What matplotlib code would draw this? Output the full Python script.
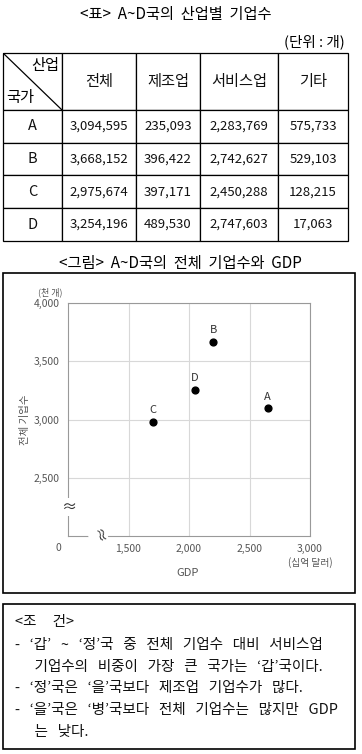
import matplotlib.pyplot as plt
from matplotlib.patches import Rectangle
from matplotlib.lines import Line2D

plt.rcParams["font.family"] = ["Noto Sans CJK KR", "DejaVu Sans"]

# table data
industries = ["전체", "제조업", "서비스업", "기타"]
countries = ["A", "B", "C", "D"]
total = [3094595, 3668152, 2975674, 3254196]
manufacturing = [235093, 396422, 397171, 489530]
service = [2283769, 2742627, 2450288, 2747603]
other = [575733, 529103, 128215, 17063]

# scatter data (GDP in billion dollars, firms in thousands)
gdp = [2650, 2200, 1700, 2050]
firms_k = [t / 1000 for t in total]

conditions = [
    "<조     건>",
    "-   ‘갑’   ~   ‘정’국   중   전체   기업수   대비   서비스업",
    "      기업수의   비중이   가장   큰   국가는   ‘갑’국이다.",
    "-   ‘정’국은   ‘을’국보다   제조업   기업수가   많다.",
    "-   ‘을’국은   ‘병’국보다   전체   기업수는   많지만   GDP",
    "      는   낮다.",
]

W, H = 362, 754
fig = plt.figure(figsize=(W / 100, H / 100), dpi=100)


def fx(x):
    return x / W


def fy(y):
    return 1 - y / H


def box(x0, y0, x1, y1):
    return [fx(x0), fy(y1), fx(x1) - fx(x0), fy(y0) - fy(y1)]


# ---- table ----
fig.text(fx(176), fy(14), "<표>  A~D국의  산업별  기업수", ha="center", va="center", fontsize=11)
fig.text(fx(345), fy(42), "(단위 : 개)", ha="right", va="center", fontsize=10.5)

tax = fig.add_axes(box(3, 53, 348, 241))
tax.axis("off")
cells = [[""] + industries]
for i, c in enumerate(countries):
    cells.append([c] + [f"{v[i]:,}" for v in (total, manufacturing, service, other)])
col_w = [59, 74, 64, 78, 70]
tbl = tax.table(cellText=cells, colWidths=col_w, cellLoc="center", bbox=[0, 0, 1, 1])
tbl.auto_set_font_size(False)
tbl.set_fontsize(9.5)
for (r, c), cell in tbl.get_celld().items():
    cell.set_height(57 if r == 0 else 33)
    cell.set_linewidth(0.9)
    cell.set_edgecolor("black")
    if r == 0:
        cell.get_text().set_fontsize(11)
    if c == 0 and r > 0:
        cell.get_text().set_fontsize(10.5)
    cell.get_text().set_color("#111111")

# header corner
hx0, hx1 = 0, 59 / 345
hy1, hy0 = 1, 1 - 57 / 188
tax.add_line(Line2D([hx0, hx1], [hy1, hy0], color="black", lw=0.9, transform=tax.transAxes))
tax.text(hx1 - 0.008, hy1 - 0.02, "산업", ha="right", va="top", fontsize=11, transform=tax.transAxes)
tax.text(hx0 + 0.008, hy0 + 0.02, "국가", ha="left", va="bottom", fontsize=11, transform=tax.transAxes)

# ---- scatter ----
fig.text(fx(180), fy(263), "<그림>  A~D국의  전체  기업수와  GDP", ha="center", va="center", fontsize=11)
fig.add_artist(Rectangle((fx(3), fy(593)), fx(355) - fx(3), fy(273) - fy(593),
                         transform=fig.transFigure, fill=False, ec="black", lw=1.2))

ax = fig.add_axes(box(68, 303, 310, 536))
ax.scatter(gdp, firms_k, s=24, color="black", zorder=3)
for g, f, c in zip(gdp, firms_k, countries):
    ax.annotate(c, (g, f), xytext=(0, 5), textcoords="offset points",
                ha="center", va="bottom", fontsize=8, color="#333333")
ax.set_xlim(1000, 3000)
ax.set_ylim(2000, 4000)
ax.set_xticks([1500, 2000, 2500, 3000])
ax.set_yticks([2500, 3000, 3500, 4000])
ax.set_xticklabels(["1,500", "2,000", "2,500", "3,000"])
ax.set_yticklabels(["2,500", "3,000", "3,500", "4,000"])
ax.tick_params(length=0, labelsize=7.5, colors="#555555", pad=6)
ax.grid(color="#d8d8d8", lw=0.8)
for s in ax.spines.values():
    s.set_color("#999999")
    s.set_linewidth(0.8)

fig.text(fx(58), fy(548), "0", ha="center", va="center", fontsize=7.5, color="#555555")
fig.text(fx(50), fy(292), "(천 개)", ha="center", va="center", fontsize=6.5, color="#555555")
fig.text(fx(25), fy(420), "전체 기업수", ha="center", va="center", rotation=90, fontsize=7.5, color="#555555")
fig.text(fx(69), fy(507), "≈", ha="center", va="center", fontsize=11, color="#333333",
         bbox=dict(fc="white", ec="none", pad=0.5))
fig.text(fx(98), fy(536), "≈", ha="center", va="center", fontsize=11, color="#333333", rotation=-70,
         bbox=dict(fc="white", ec="none", pad=0.5))
fig.text(fx(310), fy(563), "(십억 달러)", ha="center", va="center", fontsize=7, color="#555555")
fig.text(fx(188), fy(573), "GDP", ha="center", va="center", fontsize=8, color="#555555")

# ---- conditions ----
fig.add_artist(Rectangle((fx(3), fy(749)), fx(355) - fx(3), fy(604) - fy(749),
                         transform=fig.transFigure, fill=False, ec="black", lw=1.2))
ys = [622, 645, 667, 688, 710, 732]
for y, line in zip(ys, conditions):
    fig.text(fx(15), fy(y), line, ha="left", va="center", fontsize=10.5, color="#111111")

fig.savefig("out.png", dpi=100, facecolor="white")
